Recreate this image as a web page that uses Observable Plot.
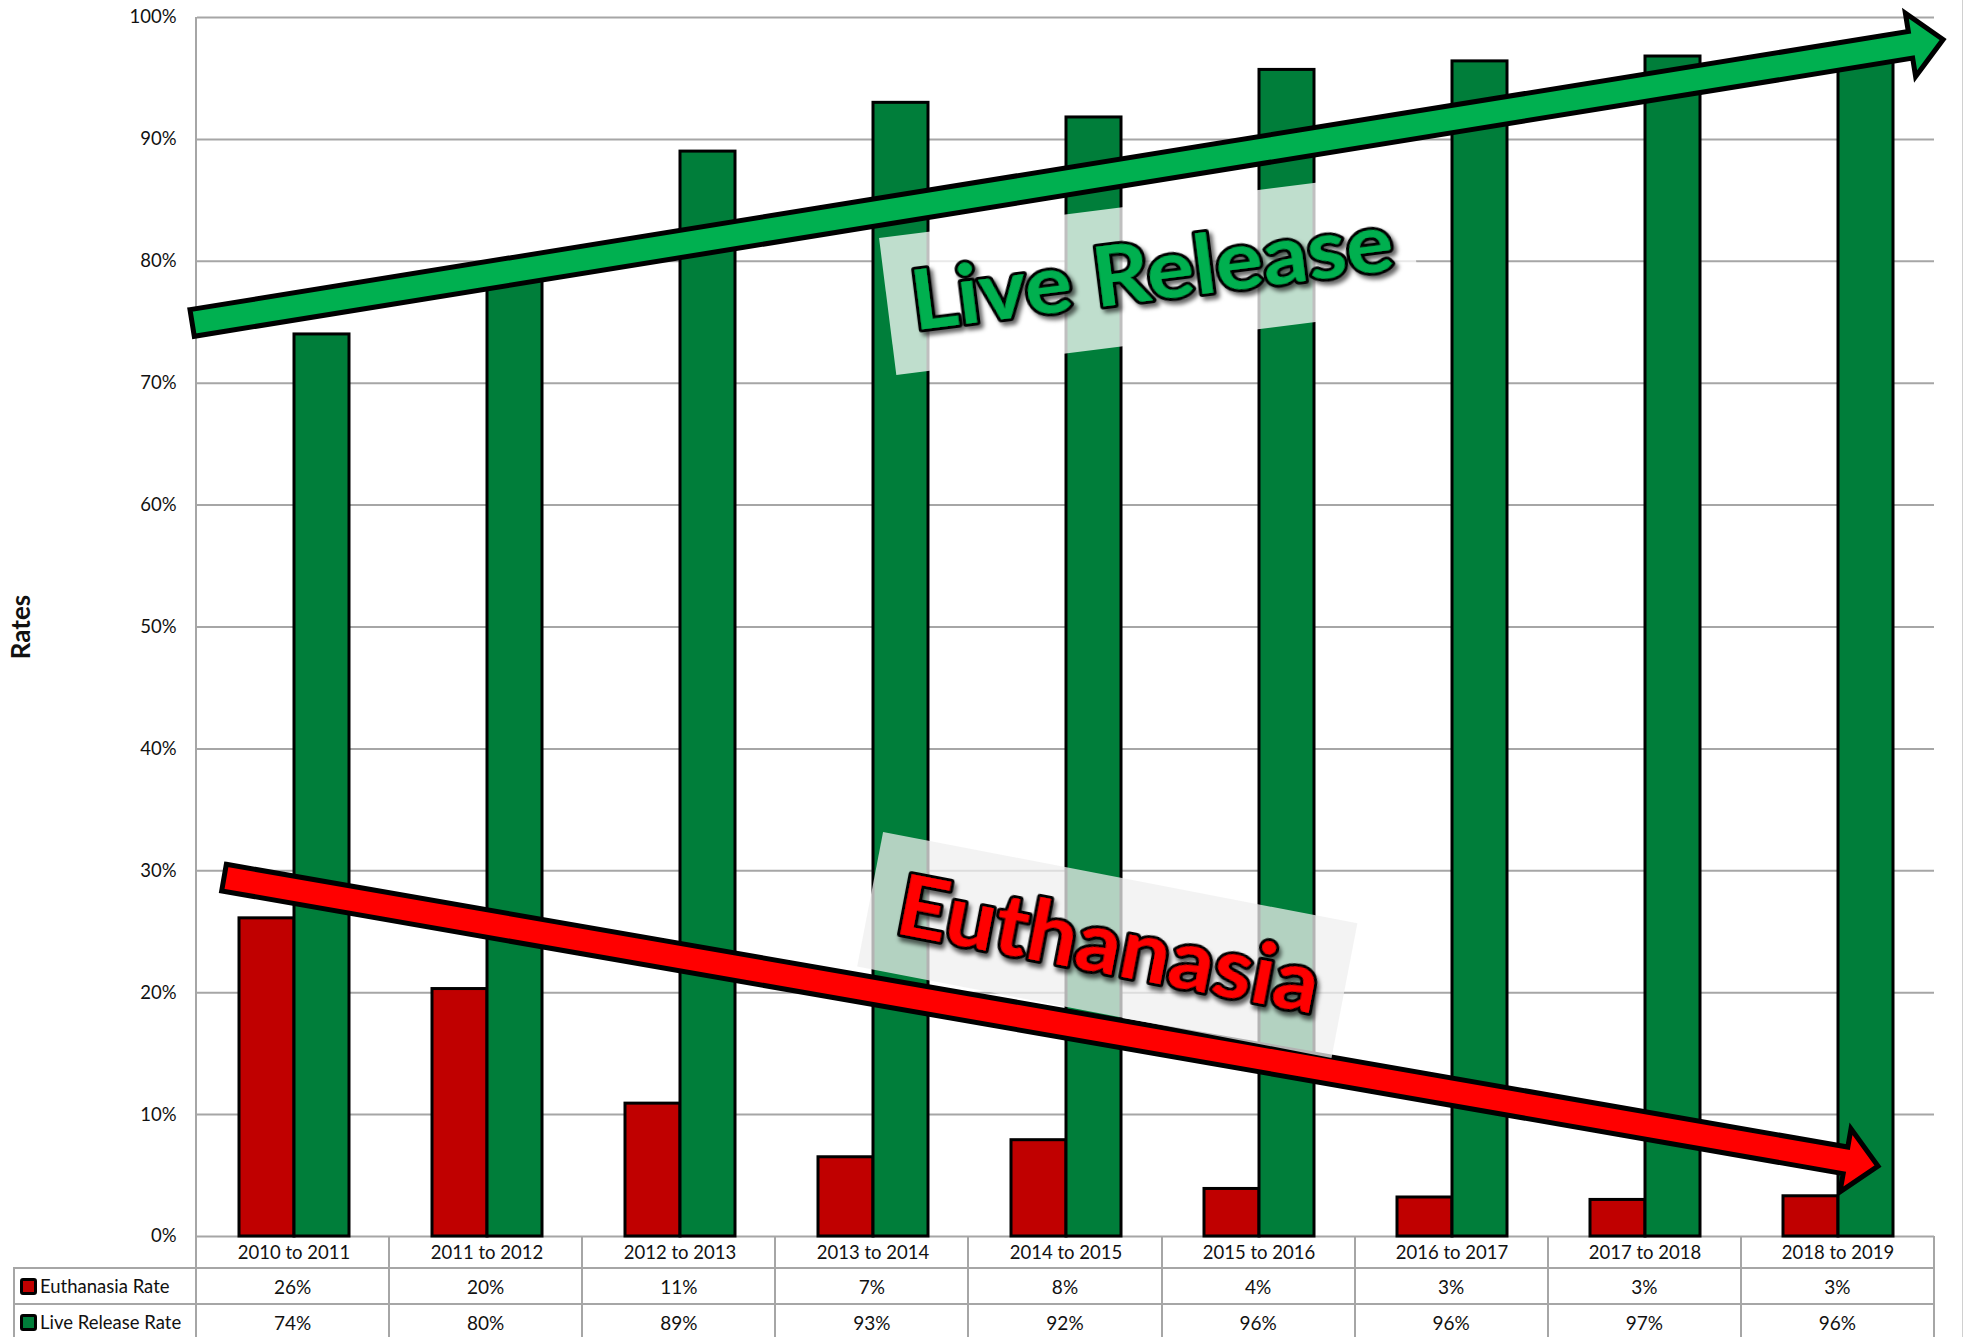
<!DOCTYPE html>
<html><head><meta charset="utf-8">
<script src="https://cdn.jsdelivr.net/npm/d3@7"></script>
<script src="https://cdn.jsdelivr.net/npm/@observablehq/plot@0.6"></script>
<style>
html,body{margin:0;padding:0;background:#fff;overflow:hidden;}
#wrap{position:relative;width:1963px;height:1337px;overflow:hidden;}
#tbl{position:absolute;left:0;top:0;width:1963px;height:1337px;pointer-events:none;}
.ln{position:absolute;background:#a6a6a6;}
.val{position:absolute;font-family:Lato,sans-serif;font-size:19px;color:#111;display:flex;align-items:center;justify-content:center;}
.lab{position:absolute;font-family:Lato,sans-serif;font-size:18.5px;color:#111;display:flex;align-items:center;white-space:nowrap;}
.sw{display:inline-block;width:11px;height:11px;border:3px solid #000;border-radius:3px;margin-right:3px;}
</style></head><body><div id="wrap"></div>
<script>
// ---- data ----
const categories = ["2010 to 2011","2011 to 2012","2012 to 2013","2013 to 2014","2014 to 2015","2015 to 2016","2016 to 2017","2017 to 2018","2018 to 2019"];
const seriesNames = ["Euthanasia Rate","Live Release Rate"];
const euthanasia = [26.1, 20.3, 10.9, 6.5, 7.9, 3.9, 3.2, 3.0, 3.3];
const liveRelease = [74.0, 79.9, 89.0, 93.0, 91.8, 95.7, 96.4, 96.8, 96.3];
const yTicks = [0,10,20,30,40,50,60,70,80,90,100];
const seriesColors = ["#c00000","#007e3a"];

// ---- layout ----
const W = 1963, H = 1337, mL = 196, mR = 29, mT = 17, mB = 101;
const gridColor = "#a6a6a6";

const rows = categories.flatMap((c, i) => [
  {category: c, series: seriesNames[0], value: euthanasia[i]},
  {category: c, series: seriesNames[1], value: liveRelease[i]}
]);

const plot = Plot.plot({
  width: W, height: H,
  marginLeft: mL, marginRight: mR, marginTop: mT, marginBottom: mB,
  style: {fontFamily: "Lato, sans-serif", fontSize: "18.5px", color: "#111", background: "#fff"},
  fx: {domain: categories, padding: 0, label: null, tickSize: 0, tickPadding: 9, axis: "bottom"},
  x: {domain: seriesNames, paddingInner: 0, paddingOuter: 0.733, axis: null},
  y: {domain: [0, 100], ticks: yTicks, tickFormat: d => d + "%", tickSize: 0, tickPadding: 21,
      label: "Rates", labelAnchor: "center", labelOffset: 186},
  color: {domain: seriesNames, range: seriesColors},
  marks: [
    Plot.ruleY(yTicks, {stroke: gridColor, strokeWidth: 2}),
    Plot.barY(rows, {fx: "category", x: "series", y: "value", fill: "series", stroke: "#000", strokeWidth: 3, inset: 0})
  ]
});
document.getElementById("wrap").appendChild(plot);

// y-axis title styling
d3.select(plot).selectAll("text").each(function() {
  const t = d3.select(this);
  if ((this.textContent || "").includes("Rates")) {
    t.text("Rates").attr("font-weight", 700).attr("font-size", 26).style("font-size", "26px").style("font-weight", 700);
  }
});

// ---- annotation overlay ----
const nCat = categories.length;
const stepX = (W - mL - mR) / nCat;
const px = u => mL + u * stepX;
const py = v => mT + (1 - v / 100) * (H - mT - mB);

const svg = d3.select(plot);
const ov = svg.append("g").attr("class", "annotations").attr("text-anchor", "start");
const defs = ov.append("defs");
const flt = defs.append("filter").attr("id", "tshadow").attr("x", "-10%").attr("y", "-30%").attr("width", "130%").attr("height", "170%");
flt.append("feDropShadow").attr("dx", 3).attr("dy", 4).attr("stdDeviation", 2).attr("flood-color", "#000").attr("flood-opacity", 0.6);

// left axis line
ov.append("line").attr("x1", mL).attr("x2", mL).attr("y1", py(100)).attr("y2", py(0))
  .attr("stroke", gridColor).attr("stroke-width", 2);

function arrowPoints(x0, y0, x1, y1, w, hw, hl) {
  const dx = x1 - x0, dy = y1 - y0, L = Math.hypot(dx, dy);
  const ux = dx / L, uy = dy / L, nx = uy, ny = -ux;
  const bx = x1 - ux * hl, by = y1 - uy * hl;
  return [
    [x0 + nx * w, y0 + ny * w], [bx + nx * w, by + ny * w], [bx + nx * hw, by + ny * hw],
    [x1, y1],
    [bx - nx * hw, by - ny * hw], [bx - nx * w, by - ny * w], [x0 - nx * w, y0 - ny * w]
  ];
}
const arrows = [
  {from: [-0.02, 74.9], to: [9.047, 98.15], fill: "#00b050"},
  {from: [0.145, 29.4], to: [8.71, 5.74], fill: "#ff0000"}
];
arrows.forEach(a => {
  const pts = arrowPoints(px(a.from[0]), py(a.from[1]), px(a.to[0]), py(a.to[1]), 13.5, 32, 33);
  ov.append("polygon").attr("points", pts.map(p => p.join(",")).join(" "))
    .attr("fill", a.fill).attr("stroke", "#000").attr("stroke-width", 5).attr("stroke-linejoin", "miter");
});

const labels = [
  {text: "Live Release", at: [3.537, 81.87], w: 530, h: 138, angle: -7.2, tx: 24, ty: 96, tlen: 485, size: 82,
   fill: "#00b050", box: "#ffffff", boxOpacity: 0.75},
  {text: "Euthanasia", at: [3.558, 33.14], w: 483, h: 137, angle: 10.9, tx: 29, ty: 97, tlen: 428, size: 84,
   fill: "#ff0000", box: "#efefef", boxOpacity: 0.75}
];
labels.forEach(l => {
  const g = ov.append("g").attr("transform", `translate(${px(l.at[0])},${py(l.at[1])}) rotate(${l.angle})`);
  g.append("rect").attr("width", l.w).attr("height", l.h).attr("fill", l.box).attr("fill-opacity", l.boxOpacity);
  g.append("text").attr("x", l.tx).attr("y", l.ty).text(l.text)
    .attr("text-anchor", "start")
    .attr("font-family", "Lato, sans-serif").attr("font-weight", 700).attr("font-size", l.size)
    .attr("textLength", l.tlen).attr("lengthAdjust", "spacingAndGlyphs")
    .attr("fill", l.fill).attr("stroke", "#000").attr("stroke-width", 6).attr("stroke-linejoin", "round")
    .attr("paint-order", "stroke").attr("filter", "url(#tshadow)");
});

// ---- data table (below the plot) ----
const tbl = document.createElement("div");
tbl.id = "tbl";
document.getElementById("wrap").appendChild(tbl);
const yAxis = py(0), rowH = [32, 36, 36];
const rowTop = [yAxis, yAxis + rowH[0], yAxis + rowH[0] + rowH[1]];
const tableLeft = 14;
function line(x, y, w, h) {
  const d = document.createElement("div");
  d.className = "ln";
  Object.assign(d.style, {left: x + "px", top: y + "px", width: w + "px", height: h + "px"});
  tbl.appendChild(d);
}
// horizontal borders
line(tableLeft - 1, rowTop[1] - 1, W - mR - tableLeft + 1, 2);
line(tableLeft - 1, rowTop[2] - 1, W - mR - tableLeft + 1, 2);
// vertical borders
line(tableLeft - 1, rowTop[1] - 1, 2, H - rowTop[1] + 1);
for (let i = 0; i <= nCat; i++) line(px(i) - 1, yAxis, 2, H - yAxis);
// right chart border
const rb = document.createElement("div");
Object.assign(rb.style, {position: "absolute", left: (W - 1) + "px", top: "0px", width: "1px", height: H + "px", background: "#d0d0d0"});
tbl.appendChild(rb);

const seriesValues = [euthanasia, liveRelease];
seriesNames.forEach((s, r) => {
  const top = rowTop[r + 1], h = rowH[r + 1];
  const lab = document.createElement("div");
  lab.className = "lab";
  Object.assign(lab.style, {left: (tableLeft + 6) + "px", top: top + "px", height: h + "px"});
  const sw = document.createElement("span");
  sw.className = "sw";
  sw.style.background = seriesColors[r];
  lab.appendChild(sw);
  lab.appendChild(document.createTextNode(s));
  tbl.appendChild(lab);
  seriesValues[r].forEach((v, i) => {
    const c = document.createElement("div");
    c.className = "val";
    Object.assign(c.style, {left: px(i) + "px", top: top + "px", width: stepX + "px", height: h + "px"});
    c.textContent = Math.round(v) + "%";
    tbl.appendChild(c);
  });
});
</script>
</body></html>
